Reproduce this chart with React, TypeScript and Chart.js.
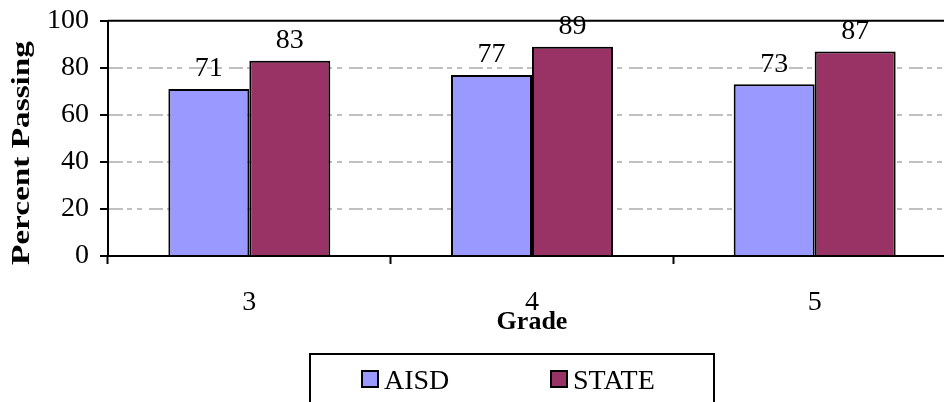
import React, { useEffect, useRef } from "react";
import { Chart, registerables } from "chart.js";

Chart.register(...registerables);

const grades = ["3", "4", "5"];
const aisdValues = [71, 77, 73];
const stateValues = [83, 89, 87];
const seriesNames = ["AISD", "STATE"];
const yTickValues = [0, 20, 40, 60, 80, 100];
const yTitle = "Percent Passing";
const xTitle = "Grade";

const FONT = "'Liberation Serif', 'Times New Roman', serif";

const dataLabelPlugin = {
  id: "dataLabels",
  afterDatasetsDraw(chart: any) {
    const ctx = chart.ctx;
    ctx.save();
    ctx.font = `28px ${FONT}`;
    ctx.fillStyle = "#000";
    ctx.textAlign = "center";
    ctx.textBaseline = "middle";
    chart.data.datasets.forEach((ds: any, i: number) => {
      const meta = chart.getDatasetMeta(i);
      meta.data.forEach((bar: any, j: number) => {
        ctx.fillText(String(ds.data[j]), bar.x, bar.y - 20);
      });
    });
    ctx.restore();
  },
};

const framePlugin = {
  id: "frame",
  afterDraw(chart: any) {
    const ctx = chart.ctx;
    const a = chart.chartArea;
    ctx.save();
    ctx.strokeStyle = "#000";
    ctx.lineWidth = 2;
    ctx.beginPath();
    ctx.moveTo(a.left, a.top);
    ctx.lineTo(a.right + 10, a.top);
    ctx.stroke();

    ctx.font = `bold 26px ${FONT}`;
    ctx.fillStyle = "#000";
    ctx.textAlign = "center";
    ctx.textBaseline = "middle";
    const w = ctx.measureText(yTitle).width;
    const target = 224;
    ctx.translate(22, 153);
    ctx.rotate(-Math.PI / 2);
    ctx.scale(target / w, 1);
    ctx.fillText(yTitle, 0, 0);
    ctx.restore();

    ctx.save();
    ctx.fillStyle = "#fff";
    ctx.strokeStyle = "#000";
    ctx.lineWidth = 2;
    ctx.fillRect(310, 354, 404, 60);
    ctx.strokeRect(310, 354, 404, 60);
    ctx.font = `28px ${FONT}`;
    ctx.textBaseline = "alphabetic";
    ctx.textAlign = "left";
    chart.data.datasets.forEach((ds: any, i: number) => {
      const x = 362 + i * 189;
      ctx.fillStyle = ds.backgroundColor;
      ctx.fillRect(x, 371, 16, 16);
      ctx.strokeStyle = "#000";
      ctx.lineWidth = 2;
      ctx.strokeRect(x, 371, 16, 16);
      ctx.fillStyle = "#000";
      ctx.fillText(ds.label, x + 22, 389);
    });
    ctx.restore();
  },
};

export default function App() {
  const canvasRef = useRef<HTMLCanvasElement | null>(null);

  useEffect(() => {
    document.body.style.margin = "0";
    const canvas = canvasRef.current;
    if (!canvas) return;
    const chart = new Chart(canvas, {
      type: "bar",
      data: {
        labels: grades,
        datasets: [
          {
            label: seriesNames[0],
            data: aisdValues,
            backgroundColor: "#9999FF",
            borderColor: "#000",
            borderWidth: 2,
          },
          {
            label: seriesNames[1],
            data: stateValues,
            backgroundColor: "#993366",
            borderColor: "#000",
            borderWidth: 2,
          },
        ],
      },
      options: {
        responsive: false,
        animation: false,
        devicePixelRatio: 1,
        layout: { padding: { top: 14, right: 4, left: 0, bottom: 0 } },
        plugins: {
          legend: { display: false },
          tooltip: { enabled: false },
        },
        datasets: {
          bar: { categoryPercentage: 0.573, barPercentage: 1.0 },
        },
        scales: {
          x: {
            offset: true,
            grid: {
              drawOnChartArea: false,
              drawTicks: true,
              tickLength: 8,
              tickColor: "#000",
              tickWidth: 2,
              offset: true,
            },
            border: { display: true, color: "#000", width: 2 },
            ticks: {
              color: "#000",
              font: { family: FONT, size: 28 },
              padding: 22,
            },
            title: {
              display: true,
              text: xTitle,
              color: "#000",
              font: { family: FONT, size: 26, weight: "bold" },
              padding: { top: 0, bottom: 64 },
            },
            afterFit(scale: any) {
              scale.height = 146;
            },
          },
          y: {
            min: 0,
            max: 100,
            afterBuildTicks(scale: any) {
              scale.ticks = yTickValues.map((v) => ({ value: v }));
            },
            grid: {
              color: (c: any) =>
                c.tick && (c.tick.value === 0 || c.tick.value === 100)
                  ? "rgba(0,0,0,0)"
                  : "#c0c0c0",
              lineWidth: 2,
              drawTicks: true,
              tickLength: 8,
              tickColor: "#000",
              tickWidth: 2,
              tickBorderDash: [],
            },
            border: { display: true, color: "#000", width: 2, dash: [14, 4, 5, 5, 5, 7] },
            ticks: {
              color: "#000",
              font: { family: FONT, size: 28, lineHeight: 0.7 },
              padding: 11,
            },
            afterFit(scale: any) {
              scale.width = 108;
            },
          },
        },
      },
      plugins: [dataLabelPlugin, framePlugin],
    } as any);
    return () => chart.destroy();
  }, []);

  return (
    <div style={{ width: 944, height: 402, overflow: "hidden" }}>
      <canvas ref={canvasRef} width={960} height={402} style={{ display: "block" }} />
    </div>
  );
}
